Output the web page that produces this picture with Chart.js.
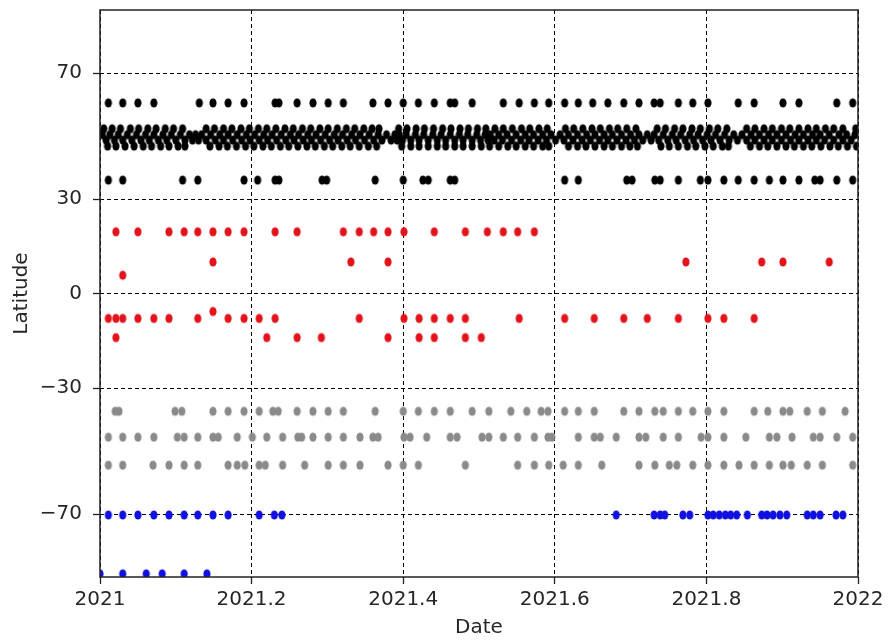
<!DOCTYPE html>
<html>
<head>
<meta charset="utf-8">
<script src="https://cdn.jsdelivr.net/npm/chart.js@4.4.0/dist/chart.umd.min.js"></script>
<style>
  html, body { margin: 0; padding: 0; background: #fff; }
  #wrap { width: 890px; height: 641px; }
</style>
</head>
<body>
<div id="wrap"><canvas id="myChart" width="890" height="641"></canvas></div>
<script>
// axis ticks
var xTicks = [2021, 2021.2, 2021.4, 2021.6, 2021.8, 2022];
var yTicks = [70, 30, 0, -30, -70];

// black: northern rows (lat 60.5, dense band 52.3 / 50.4 / 48.7 / 46.8, lat 36)
var black60 = [2021.011,2021.030,2021.050,2021.071,2021.131,2021.149,2021.169,2021.190,2021.231,2021.236,2021.260,2021.281,2021.301,2021.321,2021.360,2021.380,2021.400,2021.420,2021.441,2021.462,2021.468,2021.491,2021.532,2021.553,2021.573,2021.592,2021.613,2021.631,2021.650,2021.670,2021.691,2021.711,2021.731,2021.739,2021.763,2021.782,2021.802,2021.842,2021.863,2021.901,2021.922,2021.972,2021.993];
var black52 = [2021.005,2021.016,2021.027,2021.040,2021.051,2021.063,2021.074,2021.086,2021.097,2021.109,2021.140,2021.151,2021.163,2021.174,2021.186,2021.197,2021.209,2021.220,2021.232,2021.244,2021.255,2021.267,2021.278,2021.290,2021.301,2021.313,2021.325,2021.336,2021.348,2021.359,2021.368,2021.394,2021.405,2021.417,2021.428,2021.440,2021.452,2021.463,2021.475,2021.486,2021.498,2021.509,2021.521,2021.532,2021.544,2021.556,2021.567,2021.579,2021.590,2021.614,2021.625,2021.637,2021.649,2021.660,2021.672,2021.683,2021.695,2021.707,2021.735,2021.746,2021.758,2021.769,2021.781,2021.792,2021.804,2021.815,2021.827,2021.853,2021.864,2021.876,2021.887,2021.899,2021.910,2021.922,2021.934,2021.945,2021.957,2021.968,2021.980,2021.997];
var black50 = [2021.003,2021.013,2021.024,2021.036,2021.048,2021.060,2021.071,2021.083,2021.094,2021.106,2021.118,2021.126,2021.134,2021.146,2021.158,2021.169,2021.181,2021.193,2021.204,2021.216,2021.227,2021.239,2021.251,2021.262,2021.274,2021.285,2021.297,2021.309,2021.320,2021.332,2021.343,2021.355,2021.367,2021.378,2021.389,2021.395,2021.404,2021.416,2021.427,2021.439,2021.450,2021.462,2021.474,2021.485,2021.497,2021.508,2021.515,2021.526,2021.537,2021.549,2021.561,2021.572,2021.584,2021.595,2021.607,2021.618,2021.630,2021.642,2021.653,2021.665,2021.676,2021.688,2021.700,2021.711,2021.722,2021.731,2021.743,2021.755,2021.766,2021.778,2021.789,2021.801,2021.812,2021.824,2021.836,2021.847,2021.859,2021.870,2021.882,2021.893,2021.905,2021.917,2021.928,2021.940,2021.950,2021.962,2021.975,2021.985,2021.996];
var black49 = [2021.008,2021.019,2021.030,2021.042,2021.054,2021.065,2021.077,2021.088,2021.100,2021.112,2021.122,2021.130,2021.140,2021.152,2021.163,2021.175,2021.187,2021.198,2021.210,2021.221,2021.233,2021.245,2021.256,2021.268,2021.279,2021.291,2021.303,2021.314,2021.326,2021.337,2021.349,2021.361,2021.372,2021.384,2021.392,2021.399,2021.410,2021.421,2021.433,2021.445,2021.456,2021.468,2021.479,2021.491,2021.502,2021.512,2021.520,2021.531,2021.543,2021.555,2021.566,2021.578,2021.589,2021.601,2021.612,2021.624,2021.636,2021.647,2021.659,2021.670,2021.682,2021.694,2021.705,2021.716,2021.727,2021.737,2021.749,2021.760,2021.772,2021.783,2021.795,2021.806,2021.818,2021.830,2021.841,2021.853,2021.864,2021.876,2021.887,2021.899,2021.911,2021.922,2021.934,2021.945,2021.956,2021.968,2021.980,2021.991];
var black47 = [2021.010,2021.021,2021.033,2021.045,2021.057,2021.068,2021.080,2021.091,2021.103,2021.112,2021.145,2021.157,2021.168,2021.180,2021.192,2021.203,2021.215,2021.226,2021.238,2021.249,2021.261,2021.273,2021.284,2021.296,2021.307,2021.319,2021.330,2021.342,2021.354,2021.365,2021.398,2021.410,2021.421,2021.433,2021.445,2021.456,2021.468,2021.479,2021.491,2021.503,2021.514,2021.526,2021.538,2021.549,2021.561,2021.572,2021.584,2021.592,2021.618,2021.630,2021.641,2021.653,2021.665,2021.676,2021.688,2021.699,2021.709,2021.740,2021.751,2021.763,2021.775,2021.786,2021.798,2021.809,2021.821,2021.829,2021.858,2021.870,2021.881,2021.893,2021.905,2021.916,2021.928,2021.939,2021.951,2021.963,2021.974,2021.986,2021.998];
var black36 = [2021.011,2021.030,2021.109,2021.129,2021.190,2021.208,2021.231,2021.236,2021.293,2021.299,2021.363,2021.400,2021.426,2021.433,2021.462,2021.468,2021.613,2021.631,2021.695,2021.702,2021.732,2021.739,2021.763,2021.792,2021.802,2021.823,2021.842,2021.863,2021.883,2021.901,2021.922,2021.943,2021.950,2021.972,2021.993];

// red: tropical rows
var red20 = [2021.021,2021.050,2021.091,2021.111,2021.129,2021.149,2021.169,2021.190,2021.231,2021.260,2021.321,2021.342,2021.361,2021.380,2021.401,2021.441,2021.482,2021.511,2021.532,2021.551,2021.573];
var red10 = [2021.149,2021.331,2021.380,2021.773,2021.873,2021.901,2021.962];
var red6 = [2021.030];
var redM6 = [2021.149];
var redM8 = [2021.011,2021.021,2021.030,2021.050,2021.071,2021.091,2021.129,2021.169,2021.190,2021.210,2021.231,2021.342,2021.401,2021.421,2021.441,2021.462,2021.482,2021.553,2021.613,2021.652,2021.691,2021.722,2021.763,2021.802,2021.823,2021.863];
var redM14 = [2021.021,2021.220,2021.260,2021.292,2021.380,2021.421,2021.441,2021.482,2021.503];

// gray: southern mid-latitude rows (-37.4 / -45.6 / -54.5)
var grayM37 = [2021.020,2021.025,2021.099,2021.108,2021.149,2021.169,2021.190,2021.210,2021.228,2021.235,2021.260,2021.281,2021.301,2021.321,2021.363,2021.400,2021.420,2021.441,2021.462,2021.491,2021.513,2021.542,2021.563,2021.582,2021.591,2021.613,2021.631,2021.652,2021.691,2021.711,2021.732,2021.743,2021.763,2021.782,2021.802,2021.823,2021.863,2021.881,2021.901,2021.910,2021.933,2021.953,2021.983];
var grayM45 = [2021.011,2021.030,2021.050,2021.071,2021.102,2021.111,2021.129,2021.149,2021.156,2021.181,2021.201,2021.220,2021.241,2021.261,2021.266,2021.281,2021.301,2021.321,2021.343,2021.360,2021.367,2021.401,2021.409,2021.431,2021.462,2021.471,2021.504,2021.513,2021.532,2021.551,2021.573,2021.591,2021.596,2021.631,2021.652,2021.660,2021.681,2021.711,2021.720,2021.743,2021.763,2021.793,2021.802,2021.823,2021.852,2021.883,2021.893,2021.913,2021.941,2021.950,2021.972,2021.993];
var grayM54 = [2021.011,2021.030,2021.070,2021.091,2021.111,2021.129,2021.169,2021.181,2021.191,2021.210,2021.218,2021.241,2021.270,2021.301,2021.321,2021.343,2021.380,2021.400,2021.420,2021.482,2021.551,2021.573,2021.592,2021.611,2021.631,2021.662,2021.711,2021.732,2021.751,2021.761,2021.782,2021.802,2021.823,2021.843,2021.863,2021.883,2021.901,2021.912,2021.933,2021.953,2021.993];

// blue: polar rows
var blueM70 = [2021.011,2021.030,2021.050,2021.071,2021.091,2021.111,2021.129,2021.149,2021.169,2021.210,2021.230,2021.240,2021.681,2021.731,2021.739,2021.745,2021.769,2021.778,2021.802,2021.809,2021.817,2021.825,2021.832,2021.840,2021.854,2021.873,2021.880,2021.888,2021.897,2021.906,2021.933,2021.941,2021.950,2021.971,2021.980];
var blueM89 = [2021.000,2021.030,2021.061,2021.082,2021.111,2021.141];

function pts(lat, dates) {
  return dates.map(function(d) { return {x: d, y: lat}; });
}

function dot(color) {
  var c = document.createElement('canvas');
  c.width = 10; c.height = 12;
  var g = c.getContext('2d');
  g.fillStyle = color;
  g.beginPath();
  g.ellipse(5, 6, 3.6, 4.6, 0, 0, 2 * Math.PI);
  g.fill();
  return c;
}

var txt = '#262626';
var font = {family: 'DejaVu Sans', size: 20};

var frame = {
  id: 'frame',
  afterDraw: function(chart) {
    var a = chart.chartArea, ctx = chart.ctx;
    ctx.save();
    ctx.strokeStyle = '#222';
    ctx.lineWidth = 1.5;
    ctx.strokeRect(a.left, a.top, a.right - a.left, a.bottom - a.top);
    ctx.restore();
  }
};

var ctx = document.getElementById('myChart').getContext('2d');
var myChart = new Chart(ctx, {
  type: 'scatter',
  data: {
    datasets: [
      {label: 'black', pointStyle: dot('#000000'),
       data: [].concat(pts(60.5, black60), pts(52.3, black52), pts(50.4, black50), pts(48.7, black49), pts(46.8, black47), pts(36, black36))},
      {label: 'red', pointStyle: dot('#e3121b'),
       data: [].concat(pts(19.6, red20), pts(10, red10), pts(5.8, red6), pts(-5.7, redM6), pts(-7.9, redM8), pts(-14, redM14))},
      {label: 'gray', pointStyle: dot('#8a8a8a'),
       data: [].concat(pts(-37.4, grayM37), pts(-45.6, grayM45), pts(-54.5, grayM54))},
      {label: 'blue', pointStyle: dot('#1010e0'),
       data: [].concat(pts(-70.3, blueM70), pts(-89, blueM89))}
    ]
  },
  options: {
    responsive: false,
    animation: false,
    layout: {padding: {top: 10, right: 32, left: 0, bottom: 0}},
    plugins: {legend: {display: false}, tooltip: {enabled: false}},
    scales: {
      x: {
        type: 'linear', min: 2021, max: 2022,
        afterBuildTicks: function(s) { s.ticks = xTicks.map(function(v) { return {value: v}; }); },
        afterFit: function(s) { s.height = 64; },
        ticks: {color: txt, font: font, padding: 4, maxRotation: 0, autoSkip: false,
                callback: function(v) { return String(v); }},
        grid: {color: '#000', lineWidth: 1, tickLength: 7, tickColor: '#222', tickWidth: 1.3, tickBorderDash: []},
        border: {display: false, dash: [4, 3]},
        title: {display: true, text: 'Date', color: txt, font: font, padding: {top: 0, bottom: 1}}
      },
      y: {
        type: 'linear', min: -90, max: 90,
        afterBuildTicks: function(s) { s.ticks = yTicks.map(function(v) { return {value: v}; }); },
        afterFit: function(s) { s.width = 100; s.paddingTop = 0; s.paddingBottom = 0; },
        ticks: {color: txt, font: font, padding: 11, autoSkip: false,
                callback: function(v) { return String(v).replace('-', '\u2212'); }},
        grid: {color: '#000', lineWidth: 1, tickLength: 7, tickColor: '#222', tickWidth: 1.3, tickBorderDash: []},
        border: {display: false, dash: [4, 3]},
        title: {display: true, text: 'Latitude', color: txt, font: font, padding: {top: 10, bottom: 0}}
      }
    }
  },
  plugins: [frame]
});
</script>
</body>
</html>
